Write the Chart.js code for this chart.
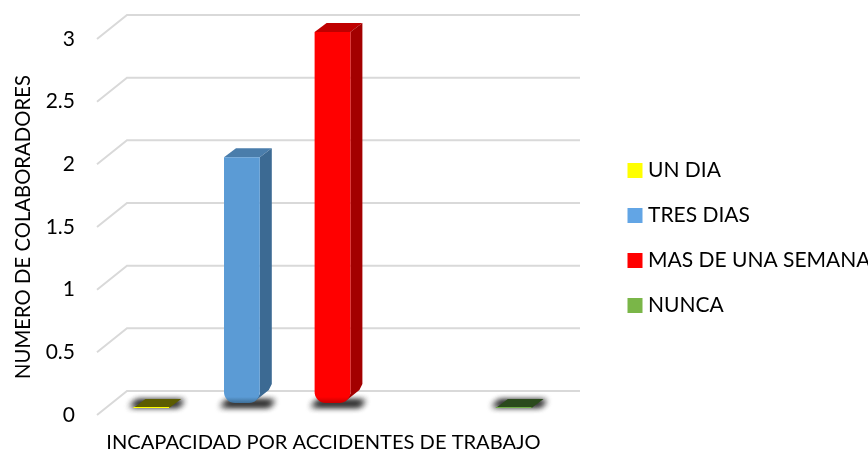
<!DOCTYPE html>
<html><head><meta charset="utf-8">
<script src="https://cdn.jsdelivr.net/npm/chart.js@4/dist/chart.umd.min.js"></script>
<style>html,body{margin:0;padding:0;background:#fff}#w{width:868px;height:451px}</style>
</head><body><div id="w"><canvas id="c"></canvas></div>
<script>
const categories = ['INCAPACIDAD'];
const seriesNames = ['UN DIA', 'TRES DIAS', 'MAS DE UNA SEMANA', '', 'NUNCA'];
const unDia = [0];
const tresDias = [2];
const masDeUnaSemana = [3];
const vacio = [null];
const nunca = [0];
const xTitle = 'INCAPACIDAD POR ACCIDENTES DE TRABAJO';
const yTitle = 'NUMERO DE COLABORADORES';
const frontColors = ['#ffff00', '#5b9bd5', '#ff0000', '#000000', '#70ad47'];
const legendColors = ['#ffff00', '#62a5e5', '#ff0000', '#000000', '#7ab648'];
const topColors = ['#5c5c00', '#4a7dab', '#bf0000', '#000000', '#2b4a1c'];
const sideColors = ['#5c5c00', '#3c6a93', '#a30000', '#000000', '#2b4a1c'];
const edgeColors = ['#ffff00', '#3f7099', '#c80000', '#000000', '#70ad47'];
const FONT = 'Lato, Carlito, sans-serif';
const wallX = 30, wallY = -24, planeX = 9, planeY = -7, depthX = 12, depthY = -9;

function poly(ctx, pts, fill) {
  ctx.beginPath();
  pts.forEach((p, i) => i ? ctx.lineTo(p[0], p[1]) : ctx.moveTo(p[0], p[1]));
  ctx.closePath();
  ctx.fillStyle = fill;
  ctx.fill();
}

const depth3d = {
  id: 'depth3d',
  afterLayout(chart) {
    const l = chart.legend;
    l.left = 608.5; l.top = 136; l.right = 868; l.bottom = 340;
  },
  beforeDatasetsDraw(chart) {
    const ctx = chart.ctx, ys = chart.scales.y, a = chart.chartArea;
    ctx.save();
    ctx.strokeStyle = '#d9d9d9';
    ctx.lineWidth = 2;
    ys.ticks.forEach(t => {
      const py = ys.getPixelForValue(t.value);
      ctx.beginPath();
      ctx.moveTo(a.left, py);
      ctx.lineTo(a.left + wallX, py + wallY);
      ctx.lineTo(a.right + wallX, py + wallY);
      ctx.stroke();
    });
    chart.data.datasets.forEach((d, i) => {
      const el = chart.getDatasetMeta(i).data[0];
      if (!el || d.data[0] === null) return;
      const w = el.width, L = el.x - w / 2 + planeX, R = L + w;
      const zero = ys.getPixelForValue(0) + planeY, T = el.y + planeY;
      ctx.save();
      const off = 3000;
      ctx.shadowColor = 'rgba(20,20,20,0.9)';
      ctx.shadowBlur = 6;
      ctx.shadowOffsetX = off;
      ctx.fillStyle = '#000';
      for (let k = 0; k < 2; k++) {
        ctx.beginPath();
        ctx.moveTo(L - 4 - off, zero - 1.5);
        ctx.lineTo(L + 4 - off, zero - 7.5);
        ctx.lineTo(R + 15 - off, zero - 7.5);
        ctx.lineTo(R + 9 - off, zero - 1.5);
        ctx.closePath();
        ctx.fill();
      }
      ctx.restore();
      if (d.data[0] > 0) {
        poly(ctx, [[L, T], [L + depthX, T + depthY], [R + depthX, T + depthY], [R, T]], topColors[i]);
        poly(ctx, [[R, T], [R + depthX, T + depthY], [R + depthX, zero - 24], [R + depthX - 3, zero - 18], [R - 6, zero - 6], [R, zero - 14]], sideColors[i]);
      } else {
        poly(ctx, [[L, zero], [L + depthX, zero + depthY], [R + depthX, zero + depthY], [R, zero]], topColors[i]);
        ctx.fillStyle = edgeColors[i];
        ctx.fillRect(L, zero - 1, w, 1);
      }
    });
    ctx.translate(planeX, planeY);
  },
  afterDatasetsDraw(chart) { chart.ctx.restore(); }
};

const baseLift = 0.04;
function barFill(i) {
  return c => {
    const ys = c.chart.scales.y;
    if (!ys || ys.top === undefined) return frontColors[i];
    const b = ys.getPixelForValue(baseLift);
    const g = c.chart.ctx.createLinearGradient(0, b - 6, 0, b);
    g.addColorStop(0, frontColors[i]);
    g.addColorStop(1, edgeColors[i]);
    return g;
  };
}
const values = [unDia, tresDias, masDeUnaSemana, vacio, nunca];

new Chart(document.getElementById('c'), {
  type: 'bar',
  plugins: [depth3d],
  data: {
    labels: categories,
    datasets: seriesNames.map((n, i) => {
      const pos = values[i][0] > 0;
      const ds = {
        label: n, data: values[i], clip: false,
        backgroundColor: pos ? barFill(i) : 'rgba(0,0,0,0)',
        borderRadius: pos ? { topLeft: 0, topRight: 0, bottomLeft: 11, bottomRight: 11 } : 0,
        borderSkipped: false,
        barPercentage: 0.395, categoryPercentage: 1
      };
      if (pos) ds.base = baseLift;
      return ds;
    })
  },
  options: {
    responsive: true, maintainAspectRatio: false, animation: false,
    layout: { padding: { left: 0, top: 39, right: 318, bottom: 0 } },
    plugins: {
      tooltip: { enabled: false },
      legend: {
        position: 'chartArea', align: 'start',
        labels: {
          color: '#000', font: { family: FONT, size: 21 }, boxWidth: 5, boxHeight: 5, padding: 24,
          generateLabels: () => seriesNames.map((n, i) => ({
            text: n, fillStyle: legendColors[i], strokeStyle: legendColors[i], lineWidth: 10, hidden: false, datasetIndex: i, fontColor: '#000'
          })).filter(o => o.text)
        }
      }
    },
    scales: {
      x: {
        grid: { display: false }, border: { display: false },
        ticks: { display: false },
        title: { display: true, text: xTitle, color: '#000', font: { family: FONT, size: 20.1, lineHeight: 1 }, padding: { top: 0, bottom: -2 } },
        afterFit(s) { s.height = 36; }
      },
      y: {
        min: 0, max: 3,
        grid: { display: false, drawTicks: false }, border: { display: false },
        ticks: { stepSize: 0.5, color: '#000', padding: 22, font: { family: FONT, size: 21 }, callback: v => String(v) },
        title: { display: true, text: yTitle, color: '#000', font: { family: FONT, size: 20.3 }, padding: { top: 11, bottom: 0 } },
        afterFit(s) { s.width = 97; }
      }
    }
  }
});
</script></body></html>
